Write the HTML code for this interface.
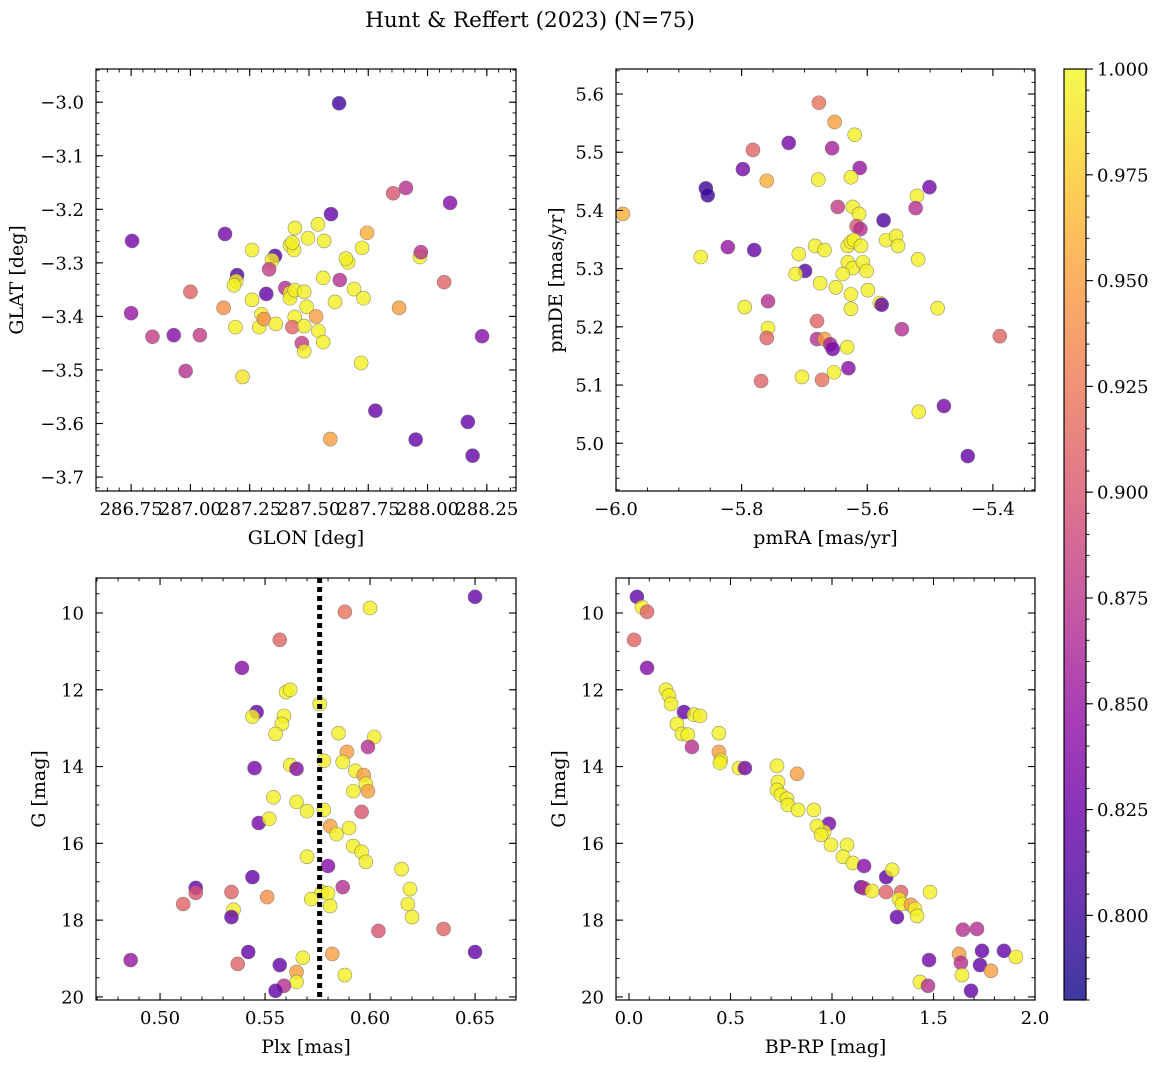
<!DOCTYPE html>
<html><head><meta charset="utf-8">
<style>
body{margin:0;background:#fff;}
svg{display:block;font-family:"DejaVu Serif","Liberation Serif",serif;}
</style></head>
<body>
<svg id="fig" width="1161" height="1068" viewBox="0 0 1161 1068" xmlns="http://www.w3.org/2000/svg">
<text x="530" y="27" font-size="21.5" text-anchor="middle">Hunt &amp; Reffert (2023) (N=75)</text>
</svg>
<script>
// ---- data: panel 1 (GLON vs GLAT) ----
const glon=[287.627,286.754,287.146,287.593,287.909,287.855,288.095,287.745,287.197,287.193,287.184,287.260,287.357,287.344,287.332,287.441,287.420,287.437,287.496,287.538,287.564,287.665,287.656,287.724,287.968,287.972,288.070,287.560,287.630,287.690,287.730,287.610,287.000,286.750,286.840,286.930,287.040,286.980,287.140,287.190,287.300,287.290,287.310,287.320,287.260,287.360,287.400,287.420,287.420,287.440,287.440,287.480,287.430,287.470,287.480,287.490,287.530,287.540,287.560,287.480,287.220,287.720,287.590,287.780,287.950,288.170,288.190,288.230,287.880,287.430];
const glat=[-3.002,-3.259,-3.246,-3.209,-3.160,-3.170,-3.188,-3.244,-3.323,-3.334,-3.342,-3.276,-3.287,-3.295,-3.312,-3.235,-3.267,-3.276,-3.254,-3.228,-3.259,-3.299,-3.292,-3.272,-3.289,-3.280,-3.336,-3.328,-3.332,-3.349,-3.366,-3.373,-3.354,-3.394,-3.438,-3.435,-3.435,-3.502,-3.384,-3.420,-3.396,-3.420,-3.405,-3.358,-3.369,-3.414,-3.347,-3.356,-3.366,-3.351,-3.401,-3.354,-3.420,-3.450,-3.465,-3.382,-3.400,-3.427,-3.448,-3.418,-3.513,-3.487,-3.629,-3.576,-3.630,-3.597,-3.660,-3.437,-3.384,-3.262];
const prob1=[0.80,0.83,0.83,0.82,0.87,0.90,0.84,0.96,0.81,0.995,0.995,0.995,0.81,0.995,0.88,0.995,0.995,0.995,0.995,0.995,0.995,0.995,0.995,0.995,0.995,0.87,0.91,0.995,0.87,0.995,0.995,0.995,0.91,0.85,0.88,0.84,0.88,0.87,0.94,0.995,0.995,0.995,0.94,0.82,0.995,0.995,0.87,0.995,0.995,0.995,0.995,0.995,0.91,0.88,0.995,0.995,0.95,0.995,0.995,0.995,0.99,0.995,0.95,0.82,0.82,0.82,0.82,0.84,0.95,0.995];
// ---- data: panel 2 (pmRA vs pmDE) ----
const pmra=[-5.677,-5.652,-5.620,-5.782,-5.725,-5.656,-5.612,-5.798,-5.857,-5.854,-5.760,-5.678,-5.626,-5.989,-5.647,-5.623,-5.613,-5.521,-5.501,-5.523,-5.574,-5.617,-5.611,-5.822,-5.780,-5.865,-5.709,-5.683,-5.668,-5.631,-5.626,-5.621,-5.610,-5.570,-5.554,-5.551,-5.631,-5.623,-5.607,-5.601,-5.699,-5.714,-5.639,-5.519,-5.675,-5.650,-5.626,-5.599,-5.580,-5.577,-5.626,-5.488,-5.795,-5.758,-5.758,-5.760,-5.680,-5.680,-5.668,-5.659,-5.655,-5.632,-5.630,-5.653,-5.545,-5.389,-5.769,-5.704,-5.672,-5.518,-5.478,-5.440];
const pmde=[5.585,5.552,5.530,5.504,5.516,5.507,5.473,5.471,5.438,5.426,5.451,5.453,5.457,5.394,5.406,5.406,5.394,5.425,5.440,5.404,5.383,5.373,5.368,5.337,5.332,5.320,5.325,5.339,5.332,5.339,5.346,5.349,5.339,5.349,5.356,5.339,5.311,5.301,5.311,5.296,5.296,5.291,5.291,5.316,5.275,5.268,5.256,5.263,5.241,5.238,5.231,5.232,5.234,5.244,5.198,5.181,5.210,5.179,5.179,5.170,5.162,5.165,5.129,5.122,5.196,5.184,5.107,5.114,5.109,5.054,5.064,4.978];
const prob2=[0.92,0.95,0.995,0.91,0.83,0.86,0.85,0.83,0.80,0.80,0.96,0.995,0.995,0.96,0.88,0.995,0.995,0.995,0.83,0.87,0.81,0.90,0.87,0.85,0.82,0.995,0.995,0.995,0.995,0.995,0.995,0.995,0.995,0.995,0.995,0.995,0.995,0.995,0.995,0.995,0.81,0.995,0.995,0.995,0.995,0.995,0.995,0.995,0.995,0.82,0.995,0.995,0.995,0.87,0.995,0.91,0.91,0.87,0.95,0.86,0.83,0.995,0.84,0.995,0.87,0.91,0.91,0.995,0.92,0.995,0.83,0.82];
// ---- data: panel 3 (Plx vs G) ----
const plx=[0.650,0.588,0.600,0.557,0.539,0.560,0.562,0.546,0.544,0.559,0.558,0.555,0.576,0.585,0.602,0.599,0.589,0.587,0.545,0.562,0.565,0.578,0.593,0.597,0.598,0.599,0.592,0.554,0.565,0.570,0.578,0.596,0.547,0.552,0.581,0.584,0.590,0.592,0.596,0.598,0.570,0.580,0.615,0.544,0.587,0.619,0.517,0.517,0.534,0.577,0.572,0.551,0.580,0.618,0.511,0.581,0.535,0.534,0.620,0.635,0.604,0.542,0.582,0.650,0.486,0.568,0.537,0.557,0.588,0.565,0.565,0.559,0.555];
const gmag3=[9.58,9.97,9.87,10.70,11.43,12.06,12.00,12.58,12.70,12.68,12.89,13.15,12.37,13.13,13.23,13.49,13.62,13.88,14.04,13.96,14.06,13.85,14.11,14.22,14.45,14.64,14.64,14.80,14.92,15.16,15.13,15.18,15.47,15.36,15.55,15.76,15.60,16.07,16.22,16.48,16.35,16.59,16.67,16.88,17.14,17.19,17.16,17.29,17.27,17.27,17.45,17.40,17.30,17.58,17.58,17.63,17.73,17.92,17.92,18.23,18.28,18.83,18.88,18.83,19.04,18.98,19.14,19.17,19.43,19.35,19.61,19.71,19.84];
const prob3=[0.82,0.92,0.995,0.91,0.84,0.995,0.995,0.82,0.995,0.995,0.995,0.995,0.995,0.995,0.995,0.87,0.95,0.995,0.83,0.995,0.84,0.995,0.995,0.95,0.995,0.95,0.995,0.995,0.995,0.995,0.995,0.90,0.83,0.995,0.95,0.995,0.995,0.995,0.995,0.995,0.995,0.84,0.995,0.82,0.87,0.995,0.82,0.90,0.91,0.995,0.995,0.94,0.995,0.995,0.91,0.995,0.995,0.82,0.995,0.91,0.90,0.82,0.95,0.82,0.85,0.995,0.91,0.82,0.995,0.95,0.995,0.87,0.82];
// ---- data: panel 4 (BP-RP vs G) ----
const bprp=[0.039,0.064,0.089,0.025,0.089,0.182,0.197,0.207,0.271,0.320,0.350,0.236,0.261,0.290,0.443,0.310,0.443,0.453,0.448,0.542,0.571,0.729,0.734,0.729,0.749,0.828,0.778,0.783,0.833,0.911,0.985,0.961,0.926,0.946,0.995,1.074,1.054,1.103,1.158,1.267,1.296,1.143,1.158,1.197,1.266,1.340,1.483,1.330,1.345,1.389,1.409,1.419,1.320,1.645,1.714,1.626,1.739,1.847,1.906,1.478,1.635,1.729,1.783,1.640,1.433,1.473,1.685];
const gmag4=[9.58,9.85,9.97,10.70,11.43,12.00,12.15,12.37,12.58,12.65,12.68,12.89,13.15,13.17,13.13,13.49,13.62,13.83,13.90,14.04,14.04,13.98,14.40,14.61,14.74,14.19,14.84,15.00,15.13,15.13,15.49,15.70,15.55,15.78,16.04,16.04,16.35,16.51,16.59,16.88,16.69,17.14,17.17,17.24,17.27,17.27,17.27,17.45,17.58,17.60,17.71,17.89,17.92,18.25,18.23,18.88,18.80,18.80,18.96,19.04,19.11,19.17,19.32,19.43,19.61,19.71,19.84];
const prob4=[0.82,0.995,0.91,0.91,0.84,0.995,0.995,0.995,0.82,0.995,0.995,0.995,0.995,0.995,0.995,0.87,0.95,0.995,0.995,0.995,0.83,0.995,0.995,0.995,0.995,0.95,0.995,0.995,0.995,0.995,0.83,0.995,0.995,0.995,0.995,0.995,0.995,0.995,0.84,0.82,0.995,0.82,0.87,0.995,0.91,0.91,0.995,0.995,0.995,0.95,0.995,0.995,0.82,0.87,0.87,0.95,0.82,0.82,0.995,0.83,0.87,0.82,0.95,0.995,0.995,0.87,0.82];
// colorbar ticks
const cbTicks=[0.800,0.825,0.850,0.875,0.900,0.925,0.950,0.975,1.000];

const NS="http://www.w3.org/2000/svg";
const fig=document.getElementById('fig');
const CMIN=0.78, CMAX=1.0;
const TICKFS=18, LABELFS=19;
const plasma=[[13,8,135],[65,4,157],[106,0,168],[143,13,164],[177,42,144],[204,71,120],[225,100,98],[242,132,75],[252,166,54],[252,206,37],[240,249,33]];
function cmap(v){
  let t=(v-CMIN)/(CMAX-CMIN); t=Math.max(0,Math.min(1,t));
  const f=t*10, i=Math.min(9,Math.floor(f)), r=f-i;
  const a=plasma[i], b=plasma[i+1];
  return 'rgb('+a.map((c,k)=>Math.round(c+(b[k]-c)*r)).join(',')+')';
}
function el(tag,attrs,parent){
  const e=document.createElementNS(NS,tag);
  for(const k in attrs) e.setAttribute(k,attrs[k]);
  (parent||fig).appendChild(e); return e;
}
function fmtNum(v,d){ const s=Math.abs(v).toFixed(d); return (v< -1e-9?'\u2212':'')+s; }

function panel(name,px0,py0,px1,py1,xd0,xd1,yd0,yd1,xmaj,xmin,ymaj,ymin,xd,yd,xlabel,ylabel,ylabX,xs,ys,ps,extra){
  const g=el('g',{});
  
  
  const X=v=>px0+(v-xd0)/(xd1-xd0)*(px1-px0);
  const Y=v=>py0+(v-yd0)/(yd1-yd0)*(py1-py0);
  for(let i=0;i<xs.length;i++){
    const c=el('circle',{cx:X(xs[i]),cy:Y(ys[i]),r:7,fill:cmap(ps[i]),'fill-opacity':0.8,stroke:'#666','stroke-opacity':0.7,'stroke-width':0.6},g);
    
    
  }
  if(extra) extra(g,X,Y);
  const fr=el('rect',{x:px0,y:py0,width:px1-px0,height:py1-py0,fill:'none',stroke:'#000','stroke-width':1.2},g);
  
  
  const lo=Math.min(xd0,xd1), hi=Math.max(xd0,xd1);
  const ylo=Math.min(yd0,yd1), yhi=Math.max(yd0,yd1);
  for(let k=Math.ceil(lo/xmin-1e-6);k<=Math.floor(hi/xmin+1e-6);k++){
    const x=X(k*xmin);
    el('line',{x1:x,x2:x,y1:py1,y2:py1-3.5,stroke:'#000','stroke-width':0.9},g);
    el('line',{x1:x,x2:x,y1:py0,y2:py0+3.5,stroke:'#000','stroke-width':0.9},g);
  }
  for(let k=Math.ceil(ylo/ymin-1e-6);k<=Math.floor(yhi/ymin+1e-6);k++){
    const y=Y(k*ymin);
    el('line',{x1:px0,x2:px0+3.5,y1:y,y2:y,stroke:'#000','stroke-width':0.9},g);
    el('line',{x1:px1,x2:px1-3.5,y1:y,y2:y,stroke:'#000','stroke-width':0.9},g);
  }
  for(let k=Math.ceil(lo/xmaj-1e-6);k<=Math.floor(hi/xmaj+1e-6);k++){
    const v=k*xmaj, x=X(v);
    el('line',{x1:x,x2:x,y1:py1,y2:py1-7,stroke:'#000','stroke-width':1.1},g);
    el('line',{x1:x,x2:x,y1:py0,y2:py0+7,stroke:'#000','stroke-width':1.1},g);
    const t=el('text',{x:x,y:py1+24,'font-size':TICKFS,'text-anchor':'middle'},g);
    t.textContent=fmtNum(v,xd);
    
    
  }
  for(let k=Math.ceil(ylo/ymaj-1e-6);k<=Math.floor(yhi/ymaj+1e-6);k++){
    const v=k*ymaj, y=Y(v);
    el('line',{x1:px0,x2:px0+7,y1:y,y2:y,stroke:'#000','stroke-width':1.1},g);
    el('line',{x1:px1,x2:px1-7,y1:y,y2:y,stroke:'#000','stroke-width':1.1},g);
    const t=el('text',{x:px0-12,y:y+6.5,'font-size':TICKFS,'text-anchor':'end'},g);
    t.textContent=fmtNum(v,yd);
    
    
  }
  const xl=el('text',{x:(px0+px1)/2,y:py1+53,'font-size':LABELFS,'text-anchor':'middle'},g);
  xl.textContent=xlabel;
  
  
  const cy=(py0+py1)/2;
  const yl=el('text',{x:ylabX,y:cy,'font-size':LABELFS,'text-anchor':'middle',transform:'rotate(-90 '+ylabX+' '+cy+')'},g);
  yl.textContent=ylabel;
  
  
}

panel('glon-glat-panel',96,69,516,491,286.602,288.373,-2.938,-3.726,0.25,0.05,0.1,0.02,2,1,'GLON [deg]','GLAT [deg]',23,glon,glat,prob1);
panel('pm-panel',616,69,1035,491,-6.0,-5.333,5.643,4.918,0.2,0.05,0.1,0.02,1,1,'pmRA [mas/yr]','pmDE [mas/yr]',562,pmra,pmde,prob2);
const plxMean=0.576;
panel('plx-g-panel',96,578,516,1000,0.4695,0.6695,9.089,20.08,0.05,0.01,2,0.5,2,0,'Plx [mas]','G [mag]',45,plx,gmag3,prob3,(g,X,Y)=>{
  const l=el('line',{x1:X(plxMean),x2:X(plxMean),y1:578,y2:1000,stroke:'#000','stroke-width':5,'stroke-dasharray':'5,4'},g);
  
  
});
panel('cmd-panel',616,578,1035,1000,-0.064,2.0,9.089,20.08,0.5,0.1,2,0.5,1,0,'BP-RP [mag]','G [mag]',565,bprp,gmag4,prob4);

(function(){
  const x0=1064,x1=1086,y0=69,y1=1000;
  const defs=el('defs',{});
  const lg=el('linearGradient',{id:'cbg',x1:0,y1:1,x2:0,y2:0},defs);
  for(let i=0;i<=20;i++){
    const v=CMIN+(CMAX-CMIN)*i/20;
    el('stop',{offset:(i/20),'stop-color':cmap(v),'stop-opacity':0.8},lg);
  }
  const g=el('g',{});
  
  
  el('rect',{x:x0,y:y0,width:x1-x0,height:y1-y0,fill:'url(#cbg)',stroke:'#000','stroke-width':1.2},g);
  const Y=v=>y1-(v-CMIN)/(CMAX-CMIN)*(y1-y0);
  for(let k=Math.ceil(CMIN/0.005);k<=Math.floor(CMAX/0.005+1e-6);k++){
    const y=Y(k*0.005);
    el('line',{x1:x1,x2:x1+3.5,y1:y,y2:y,stroke:'#000','stroke-width':0.9},g);
  }
  for(const v of cbTicks){
    const y=Y(v);
    el('line',{x1:x1,x2:x1+7,y1:y,y2:y,stroke:'#000','stroke-width':1.1},g);
    const t=el('text',{x:x1+11,y:y+6.5,'font-size':TICKFS},g);
    t.textContent=v.toFixed(3);
    
    
  }
})();
</script>
</body></html>
